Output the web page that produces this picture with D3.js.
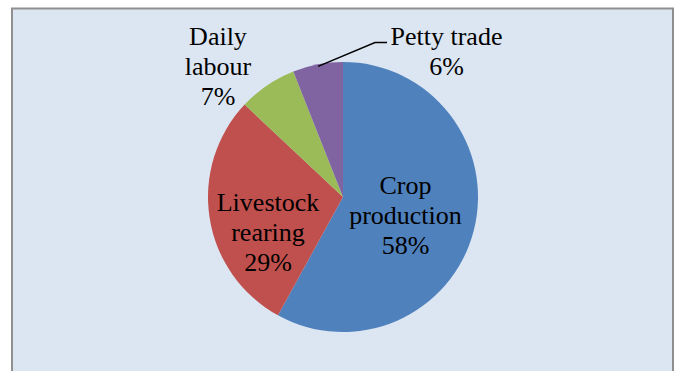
<!DOCTYPE html>
<html>
<head>
<meta charset="utf-8">
<script src="https://cdn.jsdelivr.net/npm/d3@7"></script>
<style>
  svg text, svg tspan { font-family: "Liberation Serif", "Times New Roman", serif !important; }
</style>
</head>
<body style="margin:0">
<svg id="chart" width="680" height="371"></svg>
<script>
// Income sources (share of households, %)
const categories = ["Crop production", "Livestock rearing", "Daily labour", "Petty trade"];
const values = [58, 29, 7, 6];
const colors = ["#4f81bd", "#c0504d", "#9bbb59", "#8064a2"];
// Label lines for each slice
const labelLines = [["Crop", "production", "58%"], ["Livestock", "rearing", "29%"], ["Daily", "labour", "7%"], ["Petty trade", "6%"]];

const svg = d3.select("#chart");

// chart area panel
svg.append("rect")
  .attr("x", 12).attr("y", 8.5)
  .attr("width", 661).attr("height", 380)
  .attr("fill", "#dce6f2")
  .attr("stroke", "#8f8f8f")
  .attr("stroke-width", 2);

const cx = 343, cy = 197, r = 135;
const g = svg.append("g").attr("transform", `translate(${cx},${cy})`);

const pie = d3.pie().sort(null).value(d => d.value);
const data = categories.map((c, i) => ({ name: c, value: values[i], color: colors[i], lines: labelLines[i] }));
const arcs = pie(data);
const arc = d3.arc().innerRadius(0).outerRadius(r);

g.selectAll("path.slice")
  .data(arcs)
  .join("path")
  .attr("class", "slice")
  .attr("d", arc)
  .attr("fill", d => d.data.color)
  .attr("stroke", "none");

// Label placement: inside for the two large slices, outside for the small ones
const labelPos = [
  { x: 405.5, y: 193.5 },
  { x: 268, y: 210.5 },
  { x: 218, y: 45 },
  { x: 446.5, y: 44.5 }
];
const lineH = 30;

data.forEach((d, i) => {
  d.lines.forEach((ln, j) => {
    svg.append("text")
      .attr("x", labelPos[i].x)
      .attr("y", labelPos[i].y + j * lineH)
      .attr("text-anchor", "middle")
      .style("font-family", '"Liberation Serif", "Times New Roman", serif', "important")
      .style("font-size", "26px")
      .style("fill", "#000")
      .text(ln);
  });
});

// Leader line for the petty trade slice, anchored on the slice's outer arc
const pt = arcs[3];
const midA = (pt.startAngle + pt.endAngle) / 2;
const ax = cx + Math.sin(midA) * (r - 2);
const ay = cy - Math.cos(midA) * (r - 2);
svg.append("polyline")
  .attr("points", [[ax, ay], [375, 42.5], [387, 42.5]].map(p => p.join(",")).join(" "))
  .attr("fill", "none")
  .attr("stroke", "#000")
  .attr("stroke-width", 1.5);
</script>
</body>
</html>
